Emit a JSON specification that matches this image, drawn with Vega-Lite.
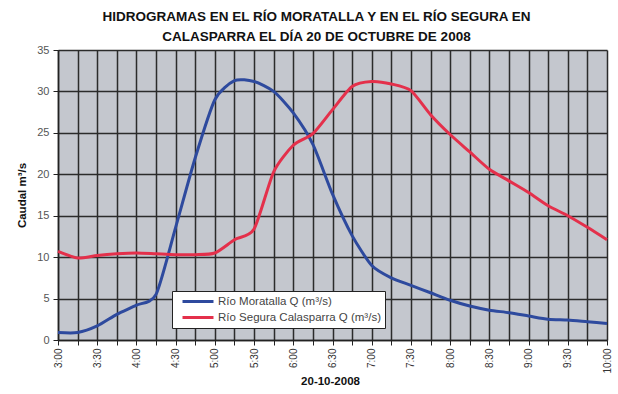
{
  "$schema": "https://vega.github.io/schema/vega-lite/v6.json",
  "autosize": "none",
  "width": 549,
  "height": 290,
  "padding": {"left": 58, "top": 50, "right": 11, "bottom": 54},
  "background": "white",
  "title": {
    "text": ["HIDROGRAMAS EN EL RÍO MORATALLA Y EN EL RÍO SEGURA EN", "CALASPARRA EL DÍA 20 DE OCTUBRE DE 2008"],
    "font": "Liberation Sans",
    "fontSize": 13.5,
    "fontWeight": "bold",
    "color": "#111",
    "anchor": "middle",
    "dx": -16,
    "offset": 1,
    "lineHeight": 20
  },
  "data": {
    "values": [
      {"t": 3.0, "serie": "Río Moratalla Q (m³/s)", "q": 0.9},
      {"t": 3.25, "serie": "Río Moratalla Q (m³/s)", "q": 0.9},
      {"t": 3.5, "serie": "Río Moratalla Q (m³/s)", "q": 1.7},
      {"t": 3.75, "serie": "Río Moratalla Q (m³/s)", "q": 3.1},
      {"t": 4.0, "serie": "Río Moratalla Q (m³/s)", "q": 4.2},
      {"t": 4.25, "serie": "Río Moratalla Q (m³/s)", "q": 5.5},
      {"t": 4.5, "serie": "Río Moratalla Q (m³/s)", "q": 13.6},
      {"t": 4.75, "serie": "Río Moratalla Q (m³/s)", "q": 22.0},
      {"t": 5.0, "serie": "Río Moratalla Q (m³/s)", "q": 29.0},
      {"t": 5.25, "serie": "Río Moratalla Q (m³/s)", "q": 31.3},
      {"t": 5.5, "serie": "Río Moratalla Q (m³/s)", "q": 31.2},
      {"t": 5.75, "serie": "Río Moratalla Q (m³/s)", "q": 30.0},
      {"t": 6.0, "serie": "Río Moratalla Q (m³/s)", "q": 27.4},
      {"t": 6.25, "serie": "Río Moratalla Q (m³/s)", "q": 23.6},
      {"t": 6.5, "serie": "Río Moratalla Q (m³/s)", "q": 17.6},
      {"t": 6.75, "serie": "Río Moratalla Q (m³/s)", "q": 12.6},
      {"t": 7.0, "serie": "Río Moratalla Q (m³/s)", "q": 9.0},
      {"t": 7.25, "serie": "Río Moratalla Q (m³/s)", "q": 7.5},
      {"t": 7.5, "serie": "Río Moratalla Q (m³/s)", "q": 6.6},
      {"t": 7.75, "serie": "Río Moratalla Q (m³/s)", "q": 5.7},
      {"t": 8.0, "serie": "Río Moratalla Q (m³/s)", "q": 4.8},
      {"t": 8.25, "serie": "Río Moratalla Q (m³/s)", "q": 4.1},
      {"t": 8.5, "serie": "Río Moratalla Q (m³/s)", "q": 3.6},
      {"t": 8.75, "serie": "Río Moratalla Q (m³/s)", "q": 3.3},
      {"t": 9.0, "serie": "Río Moratalla Q (m³/s)", "q": 2.9},
      {"t": 9.25, "serie": "Río Moratalla Q (m³/s)", "q": 2.5},
      {"t": 9.5, "serie": "Río Moratalla Q (m³/s)", "q": 2.4},
      {"t": 9.75, "serie": "Río Moratalla Q (m³/s)", "q": 2.2},
      {"t": 10.0, "serie": "Río Moratalla Q (m³/s)", "q": 2.0},
      {"t": 3.0, "serie": "Río Segura Calasparra Q (m³/s)", "q": 10.7},
      {"t": 3.25, "serie": "Río Segura Calasparra Q (m³/s)", "q": 9.9},
      {"t": 3.5, "serie": "Río Segura Calasparra Q (m³/s)", "q": 10.2},
      {"t": 3.75, "serie": "Río Segura Calasparra Q (m³/s)", "q": 10.4},
      {"t": 4.0, "serie": "Río Segura Calasparra Q (m³/s)", "q": 10.5},
      {"t": 4.25, "serie": "Río Segura Calasparra Q (m³/s)", "q": 10.4},
      {"t": 4.5, "serie": "Río Segura Calasparra Q (m³/s)", "q": 10.3},
      {"t": 4.75, "serie": "Río Segura Calasparra Q (m³/s)", "q": 10.3},
      {"t": 5.0, "serie": "Río Segura Calasparra Q (m³/s)", "q": 10.5},
      {"t": 5.25, "serie": "Río Segura Calasparra Q (m³/s)", "q": 12.1},
      {"t": 5.5, "serie": "Río Segura Calasparra Q (m³/s)", "q": 13.4},
      {"t": 5.75, "serie": "Río Segura Calasparra Q (m³/s)", "q": 20.3},
      {"t": 6.0, "serie": "Río Segura Calasparra Q (m³/s)", "q": 23.5},
      {"t": 6.25, "serie": "Río Segura Calasparra Q (m³/s)", "q": 24.9},
      {"t": 6.5, "serie": "Río Segura Calasparra Q (m³/s)", "q": 27.8},
      {"t": 6.75, "serie": "Río Segura Calasparra Q (m³/s)", "q": 30.6},
      {"t": 7.0, "serie": "Río Segura Calasparra Q (m³/s)", "q": 31.2},
      {"t": 7.25, "serie": "Río Segura Calasparra Q (m³/s)", "q": 30.9},
      {"t": 7.5, "serie": "Río Segura Calasparra Q (m³/s)", "q": 30.1},
      {"t": 7.75, "serie": "Río Segura Calasparra Q (m³/s)", "q": 27.2},
      {"t": 8.0, "serie": "Río Segura Calasparra Q (m³/s)", "q": 24.8},
      {"t": 8.25, "serie": "Río Segura Calasparra Q (m³/s)", "q": 22.7},
      {"t": 8.5, "serie": "Río Segura Calasparra Q (m³/s)", "q": 20.6},
      {"t": 8.75, "serie": "Río Segura Calasparra Q (m³/s)", "q": 19.2},
      {"t": 9.0, "serie": "Río Segura Calasparra Q (m³/s)", "q": 17.8},
      {"t": 9.25, "serie": "Río Segura Calasparra Q (m³/s)", "q": 16.2},
      {"t": 9.5, "serie": "Río Segura Calasparra Q (m³/s)", "q": 15.0},
      {"t": 9.75, "serie": "Río Segura Calasparra Q (m³/s)", "q": 13.6},
      {"t": 10.0, "serie": "Río Segura Calasparra Q (m³/s)", "q": 12.1}
    ]
  },
  "resolve": {"axis": {"x": "independent"}},
  "layer": [
    {
      "mark": {"type": "line", "strokeOpacity": 0},
      "encoding": {
        "x": {
          "field": "t",
          "type": "quantitative",
          "scale": {"domain": [3, 10], "nice": false, "zero": false},
          "axis": {
            "orient": "bottom",
            "values": [3, 3.25, 3.5, 3.75, 4, 4.25, 4.5, 4.75, 5, 5.25, 5.5, 5.75, 6, 6.25, 6.5, 6.75, 7, 7.25, 7.5, 7.75, 8, 8.25, 8.5, 8.75, 9, 9.25, 9.5, 9.75, 10],
            "labels": false,
            "ticks": false,
            "domain": false,
            "title": null,
            "grid": true,
            "gridColor": "#2b2b2b",
            "gridWidth": 1.5,
            "gridOpacity": 1,
            "zindex": 0
          }
        },
        "y": {"field": "q", "type": "quantitative"}
      }
    },
    {
      "mark": {"type": "line", "interpolate": "cardinal", "tension": 0.3, "strokeWidth": 3},
      "encoding": {
        "x": {
          "field": "t",
          "type": "quantitative",
          "axis": {
            "orient": "bottom",
            "offset": 0,
            "values": [3, 3.25, 3.5, 3.75, 4, 4.25, 4.5, 4.75, 5, 5.25, 5.5, 5.75, 6, 6.25, 6.5, 6.75, 7, 7.25, 7.5, 7.75, 8, 8.25, 8.5, 8.75, 9, 9.25, 9.5, 9.75, 10],
            "labelExpr": "datum.value % 0.5 != 0 ? '' : (datum.value % 1 == 0 ? floor(datum.value) + ':00' : floor(datum.value) + ':30')",
            "labelAngle": 270,
            "labelFont": "Liberation Sans",
            "labelFontSize": 10,
            "labelColor": "#333",
            "labelPadding": 3,
            "labelOverlap": false,
            "labelFlush": false,
            "labelBound": false,
            "labelLimit": 0,
            "tickSize": 5,
            "tickColor": "#222",
            "domainColor": "#222",
            "domainWidth": 1.5,
            "grid": false,
            "zindex": 1,
            "title": "20-10-2008",
            "titleFont": "Liberation Sans",
            "titleFontSize": 11.5,
            "titleFontWeight": "bold",
            "titleColor": "#111",
            "titleBaseline": "middle",
            "titleY": 41,
            "titleX": 272
          }
        },
        "y": {
          "field": "q",
          "type": "quantitative",
          "scale": {"domain": [0, 35], "nice": false},
          "axis": {
            "values": [0, 5, 10, 15, 20, 25, 30, 35],
            "labelFont": "Liberation Sans",
            "labelFontSize": 11,
            "labelColor": "#555",
            "labelPadding": 4,
            "tickSize": 5,
            "tickColor": "#222",
            "domainColor": "#222",
            "domainWidth": 1.5,
            "grid": true,
            "gridColor": "#2b2b2b",
            "gridWidth": 1.5,
            "gridOpacity": 1,
            "title": "Caudal m³/s",
            "titleFont": "Liberation Sans",
            "titleFontSize": 11.5,
            "titleFontWeight": "bold",
            "titleColor": "#111",
            "titleAngle": 270,
            "titleBaseline": "middle",
            "titleX": -36,
            "titleY": 145
          }
        },
        "color": {
          "field": "serie",
          "type": "nominal",
          "scale": {
            "domain": ["Río Moratalla Q (m³/s)", "Río Segura Calasparra Q (m³/s)"],
            "range": ["#2E4A9E", "#E4304B"]
          },
          "legend": {
            "title": null,
            "orient": "none",
            "legendX": 114,
            "legendY": 241,
            "fillColor": "white",
            "strokeColor": "#222",
            "padding": 4,
            "symbolType": "M0,0H6.2",
            "symbolSize": 100,
            "symbolStrokeWidth": 3,
            "labelFont": "Liberation Sans",
            "labelFontSize": 11.5,
            "labelLimit": 300,
            "labelColor": "#444",
            "labelOffset": 29,
            "rowPadding": 3
          }
        }
      }
    }
  ],
  "config": {
    "view": {"fill": "#c4c7ce", "stroke": null}
  }
}
